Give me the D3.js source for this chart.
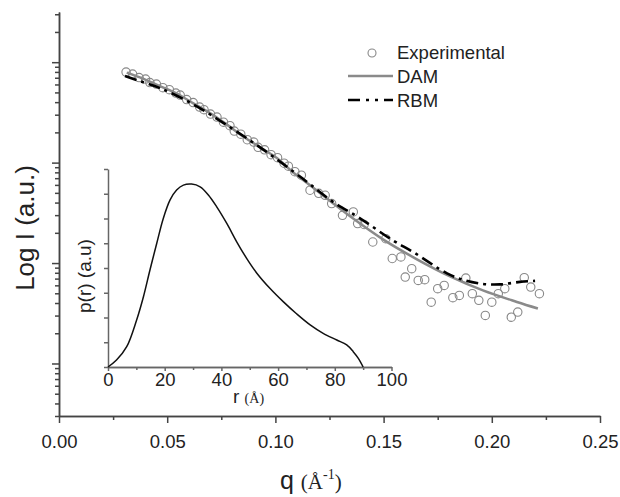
<!DOCTYPE html>
<html>
<head>
<meta charset="utf-8">
<script src="https://cdn.jsdelivr.net/npm/d3@7"></script>
<style>
  body { margin: 0; background: #fff; }
  svg { display: block; font-family: "Liberation Sans", Arial, sans-serif; }
  .axis path, .axis line { stroke: #444; stroke-width: 1.5; }
  .axis text { fill: #222; font-size: 18.5px; font-family: "Liberation Sans", Arial, sans-serif; }
</style>
</head>
<body>
<div id="chart"></div>
<script>
// experimental SAXS curve
var qExp = [0.031, 0.034, 0.037, 0.040, 0.042, 0.045, 0.048, 0.051, 0.054, 0.056,
            0.059, 0.062, 0.065, 0.067, 0.070, 0.073, 0.076, 0.079, 0.081, 0.084,
            0.087, 0.090, 0.092, 0.095, 0.098, 0.101, 0.104, 0.106, 0.109, 0.112,
            0.116, 0.120, 0.123, 0.126, 0.131, 0.136, 0.138, 0.141, 0.145, 0.151,
            0.154, 0.158, 0.160, 0.163, 0.166, 0.169, 0.172, 0.175, 0.178, 0.182,
            0.185, 0.188, 0.191, 0.194, 0.197, 0.200, 0.203, 0.206, 0.209, 0.212,
            0.215, 0.218, 0.222];
var iExp = [797, 761, 702, 679, 626, 605, 558, 533, 492, 470,
            424, 396, 357, 337, 304, 284, 253, 233, 206, 192,
            169, 160, 142, 134, 120, 112, 98.6, 92.1, 81.2, 74.9,
            53.1, 49.5, 47.3, 39.1, 29.9, 32.3, 24.7, 24.2, 16.2, 17.5,
            11.1, 11.5, 7.25, 8.80, 6.72, 6.83, 4.08, 5.56, 5.99, 4.52,
            4.76, 7.09, 4.95, 4.25, 3.01, 4.08, 4.95, 5.56, 2.89, 3.25,
            7.15, 5.77, 4.95];

// DAM fit
var qDam = [0.0313, 0.0388, 0.0467, 0.0545, 0.0619, 0.0698, 0.0776, 0.0850, 0.0929, 0.1007,
            0.1081, 0.1160, 0.1266, 0.1345, 0.1497, 0.1654, 0.1807, 0.1959, 0.2116, 0.2213];
var iDam = [787, 686, 578, 486, 391, 311, 239, 183, 142, 111,
            80.2, 59.5, 39.4, 29.2, 17.2, 10.9, 7.37, 5.34, 4.10, 3.53];

// RBM fit
var qRbm = [0.0305, 0.0374, 0.0467, 0.0619, 0.0776, 0.0929, 0.1081, 0.1160, 0.1266, 0.1391,
            0.1543, 0.1636, 0.1793, 0.1876, 0.1959, 0.2038, 0.2130, 0.2200];
var iRbm = [727, 648, 552, 382, 236, 142, 82.1, 60.9, 40.7, 27.9,
            16.8, 12.9, 7.90, 6.72, 6.20, 6.13, 6.49, 6.65];

// inset: pair distance distribution
var rPr = [0, 3.0, 6.6, 10.1, 12.5, 14.8, 17.2, 19.5, 21.9, 24.2, 26.6, 29.5, 32.5, 35.4, 38.3,
           41.9, 45.4, 48.9, 52.5, 57.1, 61.8, 66.6, 71.3, 75.9, 80.7, 84.2, 86.5, 88.3, 90];
var pPr = [0, 0.28, 0.82, 1.9, 2.84, 3.92, 5.0, 6.0, 6.75, 7.15, 7.35, 7.39, 7.28, 6.95, 6.48,
           5.8, 5.06, 4.39, 3.79, 3.18, 2.64, 2.14, 1.70, 1.36, 1.09, 0.89, 0.62, 0.35, 0];

var qTicks = [0, 0.05, 0.10, 0.15, 0.20, 0.25];
var qMinor = [0.025, 0.075, 0.125, 0.175, 0.225];
var rTicks = [0, 20, 40, 60, 80, 100];
var rMinor = [10, 30, 50, 70, 90];
var pTicks = [0, 1, 2, 3, 4, 5, 6, 7, 8];

var width = 620, height = 497;

var svg = d3.select("#chart").append("svg")
  .attr("width", width)
  .attr("height", height);

// main scales
var x = d3.scaleLinear().domain([0, 0.25]).range([59, 600]);
var y = d3.scaleLog().domain([0.3, 3160]).range([416, 12]);

// log ticks: decades and the 2..9 in between
var decades = [], logMinor = [];
for (var k = -1; k <= 3; k++) {
  var base = Math.pow(10, k);
  if (base >= 0.3) decades.push(base);
  for (var m = 2; m <= 9; m++) {
    var v = m * base;
    if (v >= 0.3 && v <= 3160) logMinor.push(v);
  }
}

// x axis
svg.append("g")
  .attr("class", "axis")
  .attr("transform", "translate(0,416)")
  .call(d3.axisBottom(x).tickValues(qMinor).tickSize(4).tickSizeOuter(0).tickFormat(""));
svg.append("g")
  .attr("class", "axis")
  .attr("transform", "translate(0,416)")
  .call(d3.axisBottom(x).tickValues(qTicks).tickSize(7).tickSizeOuter(0).tickPadding(12)
    .tickFormat(d3.format(".2f")));

// y axis
svg.append("g")
  .attr("class", "axis")
  .attr("transform", "translate(59,0)")
  .call(d3.axisLeft(y).tickValues(logMinor).tickSize(4).tickSizeOuter(0).tickFormat(""));
svg.append("g")
  .attr("class", "axis")
  .attr("transform", "translate(59,0)")
  .call(d3.axisLeft(y).tickValues(decades).tickSize(7).tickSizeOuter(0).tickFormat(""));

// axis titles
var xt = svg.append("text")
  .attr("x", 280).attr("y", 489)
  .style("font-size", "25px").style("fill", "#222");
xt.append("tspan").text("q ");
xt.append("tspan").style("font-family", "'Liberation Serif', 'Times New Roman', serif")
  .style("font-size", "21px").text("(\u00C5");
xt.append("tspan").style("font-family", "'Liberation Serif', 'Times New Roman', serif")
  .style("font-size", "14px").attr("dy", -10).text("-1");
xt.append("tspan").style("font-family", "'Liberation Serif', 'Times New Roman', serif")
  .style("font-size", "21px").attr("dy", 10).text(")");

svg.append("text")
  .attr("transform", "translate(34,228) rotate(-90)")
  .attr("text-anchor", "middle")
  .style("font-size", "26px").style("fill", "#222")
  .text("Log I (a.u.)");

// inset scales
var xr = d3.scaleLinear().domain([0, 100]).range([108, 391.5]);
var yp = d3.scaleLinear().domain([0, 8]).range([367, 169]);

svg.append("g")
  .attr("class", "axis inset")
  .attr("transform", "translate(0,367)")
  .call(d3.axisBottom(xr).tickValues(rMinor).tickSize(3).tickSizeOuter(0).tickFormat(""));
svg.append("g")
  .attr("class", "axis inset")
  .attr("transform", "translate(0,367)")
  .call(d3.axisBottom(xr).tickValues(rTicks).tickSize(4).tickSizeOuter(0).tickPadding(2));
svg.append("g")
  .attr("class", "axis inset")
  .attr("transform", "translate(108,0)")
  .call(d3.axisLeft(yp).tickValues(pTicks).tickSize(4).tickSizeOuter(0).tickFormat(""));

svg.selectAll(".inset path, .inset line").style("stroke", "#666");

var rt = svg.append("text")
  .attr("x", 233).attr("y", 403)
  .style("font-size", "19px").style("fill", "#222");
rt.append("tspan").text("r ");
rt.append("tspan").style("font-family", "'Liberation Serif', 'Times New Roman', serif")
  .style("font-size", "14px").text("(\u00C5)");

svg.append("text")
  .attr("transform", "translate(91,276) rotate(-90)")
  .attr("text-anchor", "middle")
  .style("font-size", "19px").style("fill", "#222")
  .text("p(r) (a.u)");

// p(r) curve
var prLine = d3.line()
  .x((d, i) => xr(rPr[i]))
  .y((d, i) => yp(pPr[i]))
  .curve(d3.curveCatmullRom);
svg.append("path")
  .attr("d", prLine(rPr))
  .attr("fill", "none")
  .attr("stroke", "#111")
  .attr("stroke-width", 1.5);

// experimental points
svg.selectAll(".pt")
  .data(qExp)
  .enter().append("circle")
  .attr("class", "pt")
  .attr("cx", (d) => x(d))
  .attr("cy", (d, i) => y(iExp[i]))
  .attr("r", 4.2)
  .attr("fill", "none")
  .attr("stroke", "#888")
  .attr("stroke-width", 1.1);

// fits
var damLine = d3.line()
  .x((d, i) => x(qDam[i]))
  .y((d, i) => y(iDam[i]))
  .curve(d3.curveCatmullRom);
svg.append("path")
  .attr("d", damLine(qDam))
  .attr("fill", "none")
  .attr("stroke", "#8a8a8a")
  .attr("stroke-width", 2.5);

var rbmLine = d3.line()
  .x((d, i) => x(qRbm[i]))
  .y((d, i) => y(iRbm[i]))
  .curve(d3.curveCatmullRom);
svg.append("path")
  .attr("d", rbmLine(qRbm))
  .attr("fill", "none")
  .attr("stroke", "#000")
  .attr("stroke-width", 2.6)
  .attr("stroke-dasharray", "12,5,3,5");

// legend
var legend = svg.append("g").attr("transform", "translate(348,0)");
legend.append("circle")
  .attr("cx", 24).attr("cy", 53).attr("r", 4)
  .attr("fill", "none").attr("stroke", "#888").attr("stroke-width", 1.1);
legend.append("line")
  .attr("x1", 0).attr("x2", 45).attr("y1", 76).attr("y2", 76)
  .attr("stroke", "#8a8a8a").attr("stroke-width", 2.5);
legend.append("line")
  .attr("x1", 0).attr("x2", 45).attr("y1", 100).attr("y2", 100)
  .attr("stroke", "#000").attr("stroke-width", 2.6)
  .attr("stroke-dasharray", "12,6,3,6,3,6");
var labels = ["Experimental", "DAM", "RBM"];
legend.selectAll(".lab")
  .data(labels)
  .enter().append("text")
  .attr("class", "lab")
  .attr("x", 49)
  .attr("y", (d, i) => 59 + i * 24)
  .style("font-size", "18.5px")
  .style("fill", "#222")
  .text((d) => d);
</script>
</body>
</html>
